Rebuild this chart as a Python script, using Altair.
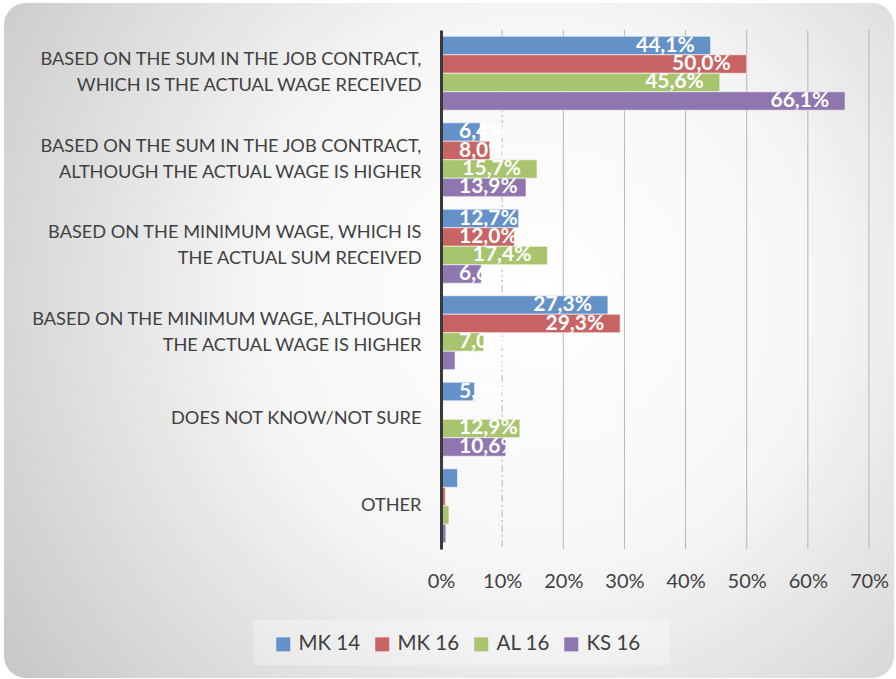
import altair as alt
import pandas as pd

categories = [
    "BASED ON THE SUM IN THE JOB CONTRACT,|WHICH IS THE ACTUAL WAGE RECEIVED",
    "BASED ON THE SUM IN THE JOB CONTRACT,|ALTHOUGH THE ACTUAL WAGE IS HIGHER",
    "BASED ON THE MINIMUM WAGE, WHICH IS|THE ACTUAL SUM RECEIVED",
    "BASED ON THE MINIMUM WAGE, ALTHOUGH|THE ACTUAL WAGE IS HIGHER",
    "DOES NOT KNOW/NOT SURE",
    "OTHER",
]
series = ["MK 14", "MK 16", "AL 16", "KS 16"]
colors = ["#6491C8", "#C86464", "#A8C46E", "#8F76AE"]

mk14 = [44.1, 6.4, 12.7, 27.3, 5.5, 2.7]
mk16 = [50.0, 8.0, 12.0, 29.3, 0.0, 0.7]
al16 = [45.6, 15.7, 17.4, 7.0, 12.9, 1.3]
ks16 = [66.1, 13.9, 6.6, 2.3, 10.6, 0.8]

mk14_labels = ["44,1%", "6,4%", "12,7%", "27,3%", "5,5%", ""]
mk16_labels = ["50,0%", "8,0%", "12,0%", "29,3%", "", ""]
al16_labels = ["45,6%", "15,7%", "17,4%", "7,0%", "12,9%", ""]
ks16_labels = ["66,1%", "13,9%", "6,6%", "2,3%", "10,6%", ""]

x_ticks = [0, 10, 20, 30, 40, 50, 60, 70]
grid_vals = [10, 20, 30, 40, 50, 60, 70]

rows = []
for s, vals, labs in zip(series, [mk14, mk16, al16, ks16],
                         [mk14_labels, mk16_labels, al16_labels, ks16_labels]):
    for c, v, l in zip(categories, vals, labs):
        rows.append({"cat": c, "series": s, "value": v, "label": l})
df = pd.DataFrame(rows)

FONT = "Lato"

y_enc = alt.Y(
    "cat:N", sort=categories, title=None,
    scale=alt.Scale(paddingInner=0.145, paddingOuter=0.0725),
    axis=alt.Axis(
        labelExpr="split(datum.label, '|')",
        labelFont=FONT, labelFontSize=18.2, labelColor="#404040",
        labelLineHeight=26, labelLimit=440, labelPadding=20,
        labelOffset=alt.condition("indexof(datum.value, '|') >= 0", alt.value(-13), alt.value(0)),
        ticks=False, domainColor="#3A3A3A", domainWidth=3,
        grid=False, zindex=2,
    ),
)
yoff = alt.YOffset("series:N", sort=series, scale=alt.Scale(paddingInner=0, paddingOuter=0))
x_scale = alt.Scale(domain=[0, 70], nice=False)
x_enc = alt.X(
    "value:Q", scale=x_scale, title=None,
    axis=alt.Axis(
        values=x_ticks, labelExpr="datum.value + '%'",
        labelFont=FONT, labelFontSize=20, labelColor="#404040",
        labelPadding=22, labelFlush=False, labelOverlap=False,
        ticks=False, domain=False, grid=False, zindex=2,
    ),
)

one = pd.DataFrame({"a": [0]})

background = alt.Chart(one).mark_rect(
    cornerRadius=22,
    fill={
        "gradient": "radial",
        "x1": 0.6, "y1": 0.45, "r1": 0,
        "x2": 0.6, "y2": 0.45, "r2": 0.78,
        "stops": [
            {"offset": 0, "color": "#FFFFFF"},
            {"offset": 0.4, "color": "#F6F6F6"},
            {"offset": 1, "color": "#C2C2C2"},
        ],
    },
).encode(
    x=alt.value(-437), x2=alt.value(453),
    y=alt.value(-27), y2=alt.value(648),
)

legend_box = alt.Chart(one).mark_rect(fill="#FFFFFF", opacity=0.3).encode(
    x=alt.value(-188), x2=alt.value(228),
    y=alt.value(590), y2=alt.value(635),
)

grid = alt.Chart(pd.DataFrame({"g": grid_vals})).mark_rule(
    color="#B5B5B5", strokeWidth=1
).encode(
    x=alt.X("g:Q", scale=x_scale),
    strokeDash=alt.condition("datum.g == 10", alt.value([7, 3, 2, 3]), alt.value([1, 0])),
)

bars = alt.Chart(df).mark_bar(
    stroke="#FFFFFF", strokeWidth=1, strokeOpacity=0.6
).encode(
    x=x_enc,
    y=y_enc,
    yOffset=yoff,
    color=alt.Color(
        "series:N", sort=series,
        scale=alt.Scale(domain=series, range=colors),
        legend=alt.Legend(
            title=None, orient="none", direction="horizontal",
            legendX=-168, legendY=604,
            symbolType="square", symbolSize=196, symbolStrokeWidth=0,
            labelFont=FONT, labelFontSize=20.5, labelColor="#404040",
            labelOffset=5, columnPadding=11,
        ),
    ),
)

text_style = dict(font=FONT, fontSize=21, fontWeight="bold", color="#FFFFFF", baseline="middle")

labels_long = alt.Chart(df).transform_filter(
    "datum.value >= 15 && datum.label != ''"
).mark_text(align="right", dx=-16, **text_style).encode(
    x=alt.X("value:Q", scale=x_scale),
    y=alt.Y("cat:N", sort=categories),
    yOffset=yoff,
    text="label:N",
)

labels_short = alt.Chart(df).transform_filter(
    "datum.value < 15 && datum.label != ''"
).mark_text(align="left", dx=18, **text_style).encode(
    x=alt.datum(0, scale=x_scale),
    y=alt.Y("cat:N", sort=categories),
    yOffset=yoff,
    text="label:N",
)

chart = alt.layer(
    background, legend_box, grid, bars, labels_long, labels_short
).properties(
    width=428, height=519,
    autosize=alt.AutoSizeParams(type="none"),
    padding={"left": 441, "top": 30, "right": 27, "bottom": 130},
    background="#FFFFFF",
).configure_view(stroke=None)

chart.save("out.html", embed_options={"renderer": "svg", "actions": False})
